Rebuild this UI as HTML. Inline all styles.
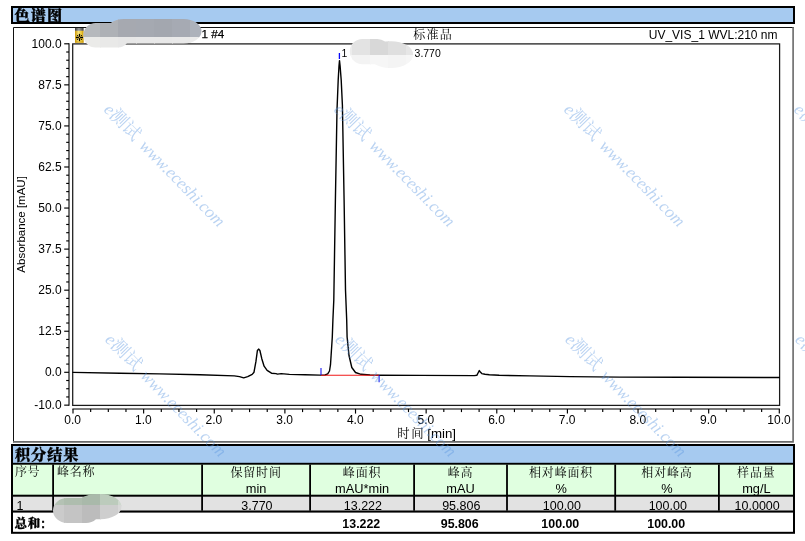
<!DOCTYPE html>
<html lang="zh"><head><meta charset="utf-8"><title>色谱图</title>
<style>html,body{margin:0;padding:0;background:#fff}svg{display:block}</style></head>
<body>
<svg width="805" height="541" viewBox="0 0 805 541">
<defs><filter id="bl" x="-20%" y="-40%" width="140%" height="180%"><feGaussianBlur stdDeviation="0.5"/></filter><filter id="bl2" x="-20%" y="-40%" width="140%" height="180%"><feGaussianBlur stdDeviation="2.2"/></filter></defs>
<rect width="805" height="541" fill="#fff"/>
<rect x="11" y="6" width="784" height="18" fill="#000"/>
<rect x="13" y="8" width="780" height="14" fill="#a6caf0"/>
<text x="14.5" y="20.6" font-family='"Liberation Sans", "Noto Serif CJK SC", serif' font-weight="900" font-size="15.2" letter-spacing="1.1" stroke="#000" stroke-width="0.35" fill="#000">色谱图</text>
<rect x="13.5" y="27.5" width="779.6" height="414.1" fill="#fff"/>
<path d="M13.5,442.3 V27.5 H793.8" fill="none" stroke="#111" stroke-width="1"/>
<path d="M793.1,27 V441.9 H13" fill="none" stroke="#6a6a6a" stroke-width="1.6"/>
<rect x="72.7" y="43.9" width="706.9" height="361.5" fill="none" stroke="#1a1a1a" stroke-width="1.25"/>
<line x1="69.0" y1="43.30000000000001" x2="69.0" y2="405.65000000000003" stroke="#444" stroke-width="1.5"/>
<line x1="64.2" y1="405.15" x2="69.0" y2="405.15" stroke="#000" stroke-width="1.15"/>
<line x1="66.2" y1="396.94" x2="69.0" y2="396.94" stroke="#000" stroke-width="1.15"/>
<line x1="66.2" y1="388.73" x2="69.0" y2="388.73" stroke="#000" stroke-width="1.15"/>
<line x1="66.2" y1="380.51" x2="69.0" y2="380.51" stroke="#000" stroke-width="1.15"/>
<line x1="64.2" y1="372.30" x2="69.0" y2="372.30" stroke="#000" stroke-width="1.15"/>
<line x1="66.2" y1="364.09" x2="69.0" y2="364.09" stroke="#000" stroke-width="1.15"/>
<line x1="66.2" y1="355.88" x2="69.0" y2="355.88" stroke="#000" stroke-width="1.15"/>
<line x1="66.2" y1="347.66" x2="69.0" y2="347.66" stroke="#000" stroke-width="1.15"/>
<line x1="66.2" y1="339.45" x2="69.0" y2="339.45" stroke="#000" stroke-width="1.15"/>
<line x1="64.2" y1="331.24" x2="69.0" y2="331.24" stroke="#000" stroke-width="1.15"/>
<line x1="66.2" y1="323.02" x2="69.0" y2="323.02" stroke="#000" stroke-width="1.15"/>
<line x1="66.2" y1="314.81" x2="69.0" y2="314.81" stroke="#000" stroke-width="1.15"/>
<line x1="66.2" y1="306.60" x2="69.0" y2="306.60" stroke="#000" stroke-width="1.15"/>
<line x1="66.2" y1="298.39" x2="69.0" y2="298.39" stroke="#000" stroke-width="1.15"/>
<line x1="64.2" y1="290.18" x2="69.0" y2="290.18" stroke="#000" stroke-width="1.15"/>
<line x1="66.2" y1="281.96" x2="69.0" y2="281.96" stroke="#000" stroke-width="1.15"/>
<line x1="66.2" y1="273.75" x2="69.0" y2="273.75" stroke="#000" stroke-width="1.15"/>
<line x1="66.2" y1="265.54" x2="69.0" y2="265.54" stroke="#000" stroke-width="1.15"/>
<line x1="66.2" y1="257.32" x2="69.0" y2="257.32" stroke="#000" stroke-width="1.15"/>
<line x1="64.2" y1="249.11" x2="69.0" y2="249.11" stroke="#000" stroke-width="1.15"/>
<line x1="66.2" y1="240.90" x2="69.0" y2="240.90" stroke="#000" stroke-width="1.15"/>
<line x1="66.2" y1="232.69" x2="69.0" y2="232.69" stroke="#000" stroke-width="1.15"/>
<line x1="66.2" y1="224.47" x2="69.0" y2="224.47" stroke="#000" stroke-width="1.15"/>
<line x1="66.2" y1="216.26" x2="69.0" y2="216.26" stroke="#000" stroke-width="1.15"/>
<line x1="64.2" y1="208.05" x2="69.0" y2="208.05" stroke="#000" stroke-width="1.15"/>
<line x1="66.2" y1="199.84" x2="69.0" y2="199.84" stroke="#000" stroke-width="1.15"/>
<line x1="66.2" y1="191.62" x2="69.0" y2="191.62" stroke="#000" stroke-width="1.15"/>
<line x1="66.2" y1="183.41" x2="69.0" y2="183.41" stroke="#000" stroke-width="1.15"/>
<line x1="66.2" y1="175.20" x2="69.0" y2="175.20" stroke="#000" stroke-width="1.15"/>
<line x1="64.2" y1="166.99" x2="69.0" y2="166.99" stroke="#000" stroke-width="1.15"/>
<line x1="66.2" y1="158.78" x2="69.0" y2="158.78" stroke="#000" stroke-width="1.15"/>
<line x1="66.2" y1="150.56" x2="69.0" y2="150.56" stroke="#000" stroke-width="1.15"/>
<line x1="66.2" y1="142.35" x2="69.0" y2="142.35" stroke="#000" stroke-width="1.15"/>
<line x1="66.2" y1="134.14" x2="69.0" y2="134.14" stroke="#000" stroke-width="1.15"/>
<line x1="64.2" y1="125.93" x2="69.0" y2="125.93" stroke="#000" stroke-width="1.15"/>
<line x1="66.2" y1="117.71" x2="69.0" y2="117.71" stroke="#000" stroke-width="1.15"/>
<line x1="66.2" y1="109.50" x2="69.0" y2="109.50" stroke="#000" stroke-width="1.15"/>
<line x1="66.2" y1="101.29" x2="69.0" y2="101.29" stroke="#000" stroke-width="1.15"/>
<line x1="66.2" y1="93.07" x2="69.0" y2="93.07" stroke="#000" stroke-width="1.15"/>
<line x1="64.2" y1="84.86" x2="69.0" y2="84.86" stroke="#000" stroke-width="1.15"/>
<line x1="66.2" y1="76.65" x2="69.0" y2="76.65" stroke="#000" stroke-width="1.15"/>
<line x1="66.2" y1="68.44" x2="69.0" y2="68.44" stroke="#000" stroke-width="1.15"/>
<line x1="66.2" y1="60.23" x2="69.0" y2="60.23" stroke="#000" stroke-width="1.15"/>
<line x1="66.2" y1="52.01" x2="69.0" y2="52.01" stroke="#000" stroke-width="1.15"/>
<line x1="64.2" y1="43.80" x2="69.0" y2="43.80" stroke="#000" stroke-width="1.15"/>
<text x="61.6" y="47.70" text-anchor="end" font-family='"Liberation Sans", "Noto Sans CJK SC", sans-serif' font-size="12" fill="#000">100.0</text>
<text x="61.6" y="88.76" text-anchor="end" font-family='"Liberation Sans", "Noto Sans CJK SC", sans-serif' font-size="12" fill="#000">87.5</text>
<text x="61.6" y="129.83" text-anchor="end" font-family='"Liberation Sans", "Noto Sans CJK SC", sans-serif' font-size="12" fill="#000">75.0</text>
<text x="61.6" y="170.89" text-anchor="end" font-family='"Liberation Sans", "Noto Sans CJK SC", sans-serif' font-size="12" fill="#000">62.5</text>
<text x="61.6" y="211.95" text-anchor="end" font-family='"Liberation Sans", "Noto Sans CJK SC", sans-serif' font-size="12" fill="#000">50.0</text>
<text x="61.6" y="253.01" text-anchor="end" font-family='"Liberation Sans", "Noto Sans CJK SC", sans-serif' font-size="12" fill="#000">37.5</text>
<text x="61.6" y="294.07" text-anchor="end" font-family='"Liberation Sans", "Noto Sans CJK SC", sans-serif' font-size="12" fill="#000">25.0</text>
<text x="61.6" y="335.14" text-anchor="end" font-family='"Liberation Sans", "Noto Sans CJK SC", sans-serif' font-size="12" fill="#000">12.5</text>
<text x="61.6" y="376.20" text-anchor="end" font-family='"Liberation Sans", "Noto Sans CJK SC", sans-serif' font-size="12" fill="#000">0.0</text>
<text x="61.6" y="409.05" text-anchor="end" font-family='"Liberation Sans", "Noto Sans CJK SC", sans-serif' font-size="12" fill="#000">-10.0</text>
<text transform="translate(24.8,224.4) rotate(-90)" text-anchor="middle" font-family='"Liberation Sans", "Noto Sans CJK SC", sans-serif' font-size="11.5" fill="#000">Absorbance [mAU]</text>
<line x1="72.4" y1="408.9" x2="779.9" y2="408.9" stroke="#505050" stroke-width="1.5"/>
<line x1="73.00" y1="408.9" x2="73.00" y2="413.6" stroke="#000" stroke-width="1.15"/>
<line x1="90.66" y1="408.9" x2="90.66" y2="412.1" stroke="#000" stroke-width="1.15"/>
<line x1="108.31" y1="408.9" x2="108.31" y2="412.1" stroke="#000" stroke-width="1.15"/>
<line x1="125.97" y1="408.9" x2="125.97" y2="412.1" stroke="#000" stroke-width="1.15"/>
<line x1="143.63" y1="408.9" x2="143.63" y2="413.6" stroke="#000" stroke-width="1.15"/>
<line x1="161.29" y1="408.9" x2="161.29" y2="412.1" stroke="#000" stroke-width="1.15"/>
<line x1="178.94" y1="408.9" x2="178.94" y2="412.1" stroke="#000" stroke-width="1.15"/>
<line x1="196.60" y1="408.9" x2="196.60" y2="412.1" stroke="#000" stroke-width="1.15"/>
<line x1="214.26" y1="408.9" x2="214.26" y2="413.6" stroke="#000" stroke-width="1.15"/>
<line x1="231.92" y1="408.9" x2="231.92" y2="412.1" stroke="#000" stroke-width="1.15"/>
<line x1="249.57" y1="408.9" x2="249.57" y2="412.1" stroke="#000" stroke-width="1.15"/>
<line x1="267.23" y1="408.9" x2="267.23" y2="412.1" stroke="#000" stroke-width="1.15"/>
<line x1="284.89" y1="408.9" x2="284.89" y2="413.6" stroke="#000" stroke-width="1.15"/>
<line x1="302.55" y1="408.9" x2="302.55" y2="412.1" stroke="#000" stroke-width="1.15"/>
<line x1="320.20" y1="408.9" x2="320.20" y2="412.1" stroke="#000" stroke-width="1.15"/>
<line x1="337.86" y1="408.9" x2="337.86" y2="412.1" stroke="#000" stroke-width="1.15"/>
<line x1="355.52" y1="408.9" x2="355.52" y2="413.6" stroke="#000" stroke-width="1.15"/>
<line x1="373.18" y1="408.9" x2="373.18" y2="412.1" stroke="#000" stroke-width="1.15"/>
<line x1="390.83" y1="408.9" x2="390.83" y2="412.1" stroke="#000" stroke-width="1.15"/>
<line x1="408.49" y1="408.9" x2="408.49" y2="412.1" stroke="#000" stroke-width="1.15"/>
<line x1="426.15" y1="408.9" x2="426.15" y2="413.6" stroke="#000" stroke-width="1.15"/>
<line x1="443.81" y1="408.9" x2="443.81" y2="412.1" stroke="#000" stroke-width="1.15"/>
<line x1="461.46" y1="408.9" x2="461.46" y2="412.1" stroke="#000" stroke-width="1.15"/>
<line x1="479.12" y1="408.9" x2="479.12" y2="412.1" stroke="#000" stroke-width="1.15"/>
<line x1="496.78" y1="408.9" x2="496.78" y2="413.6" stroke="#000" stroke-width="1.15"/>
<line x1="514.44" y1="408.9" x2="514.44" y2="412.1" stroke="#000" stroke-width="1.15"/>
<line x1="532.10" y1="408.9" x2="532.10" y2="412.1" stroke="#000" stroke-width="1.15"/>
<line x1="549.75" y1="408.9" x2="549.75" y2="412.1" stroke="#000" stroke-width="1.15"/>
<line x1="567.41" y1="408.9" x2="567.41" y2="413.6" stroke="#000" stroke-width="1.15"/>
<line x1="585.07" y1="408.9" x2="585.07" y2="412.1" stroke="#000" stroke-width="1.15"/>
<line x1="602.73" y1="408.9" x2="602.73" y2="412.1" stroke="#000" stroke-width="1.15"/>
<line x1="620.38" y1="408.9" x2="620.38" y2="412.1" stroke="#000" stroke-width="1.15"/>
<line x1="638.04" y1="408.9" x2="638.04" y2="413.6" stroke="#000" stroke-width="1.15"/>
<line x1="655.70" y1="408.9" x2="655.70" y2="412.1" stroke="#000" stroke-width="1.15"/>
<line x1="673.35" y1="408.9" x2="673.35" y2="412.1" stroke="#000" stroke-width="1.15"/>
<line x1="691.01" y1="408.9" x2="691.01" y2="412.1" stroke="#000" stroke-width="1.15"/>
<line x1="708.67" y1="408.9" x2="708.67" y2="413.6" stroke="#000" stroke-width="1.15"/>
<line x1="726.33" y1="408.9" x2="726.33" y2="412.1" stroke="#000" stroke-width="1.15"/>
<line x1="743.98" y1="408.9" x2="743.98" y2="412.1" stroke="#000" stroke-width="1.15"/>
<line x1="761.64" y1="408.9" x2="761.64" y2="412.1" stroke="#000" stroke-width="1.15"/>
<line x1="779.30" y1="408.9" x2="779.30" y2="413.6" stroke="#000" stroke-width="1.15"/>
<text x="72.70" y="423.8" text-anchor="middle" font-family='"Liberation Sans", "Noto Sans CJK SC", sans-serif' font-size="12" fill="#000">0.0</text>
<text x="143.33" y="423.8" text-anchor="middle" font-family='"Liberation Sans", "Noto Sans CJK SC", sans-serif' font-size="12" fill="#000">1.0</text>
<text x="213.96" y="423.8" text-anchor="middle" font-family='"Liberation Sans", "Noto Sans CJK SC", sans-serif' font-size="12" fill="#000">2.0</text>
<text x="284.59" y="423.8" text-anchor="middle" font-family='"Liberation Sans", "Noto Sans CJK SC", sans-serif' font-size="12" fill="#000">3.0</text>
<text x="355.22" y="423.8" text-anchor="middle" font-family='"Liberation Sans", "Noto Sans CJK SC", sans-serif' font-size="12" fill="#000">4.0</text>
<text x="425.85" y="423.8" text-anchor="middle" font-family='"Liberation Sans", "Noto Sans CJK SC", sans-serif' font-size="12" fill="#000">5.0</text>
<text x="496.48" y="423.8" text-anchor="middle" font-family='"Liberation Sans", "Noto Sans CJK SC", sans-serif' font-size="12" fill="#000">6.0</text>
<text x="567.11" y="423.8" text-anchor="middle" font-family='"Liberation Sans", "Noto Sans CJK SC", sans-serif' font-size="12" fill="#000">7.0</text>
<text x="637.74" y="423.8" text-anchor="middle" font-family='"Liberation Sans", "Noto Sans CJK SC", sans-serif' font-size="12" fill="#000">8.0</text>
<text x="708.37" y="423.8" text-anchor="middle" font-family='"Liberation Sans", "Noto Sans CJK SC", sans-serif' font-size="12" fill="#000">9.0</text>
<text x="779.00" y="423.8" text-anchor="middle" font-family='"Liberation Sans", "Noto Sans CJK SC", sans-serif' font-size="12" fill="#000">10.0</text>
<text x="397.2" y="438.4" font-family='"Liberation Sans", "Noto Serif CJK SC", serif' font-size="12.4" fill="#000" letter-spacing="1.6">时间<tspan x="427.2" letter-spacing="0" font-size="13.3">[min]</tspan></text>
<text x="201.6" y="38.1" font-family='"Liberation Sans", "Noto Sans CJK SC", sans-serif' font-size="11.7" stroke="#000" stroke-width="0.25" fill="#000">1 #4</text>
<text x="413.3" y="38.6" font-family='"Liberation Sans", "Noto Serif CJK SC", serif' font-size="12" letter-spacing="1.2" fill="#000">标准品</text>
<text x="777.5" y="39.1" text-anchor="end" font-family='"Liberation Sans", "Noto Sans CJK SC", sans-serif' font-size="12" fill="#000">UV_VIS_1 WVL:210 nm</text>
<defs><linearGradient id="cap" x1="0" x2="1" y1="0" y2="0"><stop offset="0" stop-color="#3a3a3a"/><stop offset="0.45" stop-color="#a0a0a0"/><stop offset="1" stop-color="#3a3a3a"/></linearGradient><linearGradient id="bod" x1="0" x2="1" y1="0" y2="0"><stop offset="0" stop-color="#c89400"/><stop offset="0.4" stop-color="#f7e27a"/><stop offset="0.75" stop-color="#ecc83a"/><stop offset="1" stop-color="#c89400"/></linearGradient></defs>
<g><rect x="75" y="28" width="8.6" height="2.9" fill="url(#cap)"/><rect x="75" y="30.8" width="8.6" height="11.9" fill="url(#bod)"/><rect x="75" y="41.5" width="8.6" height="1.2" fill="#c49200" fill-opacity="0.7"/><g stroke="#000" stroke-width="1.3" stroke-linecap="round"><line x1="79.5" y1="34.5" x2="79.5" y2="40.5"/><line x1="76.5" y1="37.5" x2="82.5" y2="37.5"/></g><g fill="#000"><circle cx="77.5" cy="35.5" r="0.6"/><circle cx="81.5" cy="35.5" r="0.6"/><circle cx="77.5" cy="39.5" r="0.6"/><circle cx="81.5" cy="39.5" r="0.6"/></g><circle cx="79.5" cy="37.5" r="0.7" fill="#e0b020"/></g>
<path d="M73.0,372.4 L120.0,373.2 L159.4,373.9 L200.0,374.8 L234.3,375.9 L239.5,376.6 L243.7,377.8 L247.7,376.6 L252.2,374.4 L254.0,372.2 L255.9,361.7 L257.4,350.5 L258.6,349.1 L259.9,350.5 L261.8,358.7 L264.1,366.2 L267.1,370.4 L271.5,373.2 L276.0,373.6 L277.5,374.1 L281.2,373.6 L289.4,374.4 L305.0,374.8 L320.0,375.1 L325.0,375.0 L327.7,373.9 L329.5,371.0 L330.5,364.7 L332.3,337.0 L332.9,320.0 L333.8,300.0 L335.4,200.0 L337.0,110.0 L338.2,80.0 L339.0,66.0 L339.5,60.6 L340.1,66.0 L341.2,80.0 L342.4,105.0 L344.1,200.0 L345.5,290.0 L346.7,320.0 L347.1,337.0 L349.0,355.5 L351.8,367.5 L355.5,372.5 L361.0,374.3 L370.0,375.0 L379.0,375.2 L420.0,375.4 L474.3,375.6 L476.8,375.3 L478.3,372.5 L479.3,370.6 L480.3,372.0 L481.8,373.6 L485.0,374.3 L489.3,374.8 L499.2,375.3 L530.0,375.9 L570.0,376.6 L620.0,377.1 L680.0,377.3 L779.3,377.5" fill="none" stroke="#000" stroke-width="1.4" stroke-linejoin="round" stroke-linecap="round"/>
<line x1="321" y1="375.2" x2="379" y2="375.2" stroke="#f01818" stroke-width="1.1"/>
<line x1="321" y1="368" x2="321" y2="375" stroke="#1010f4" stroke-width="1.05"/>
<line x1="379.1" y1="375.2" x2="379.1" y2="382.3" stroke="#1010f4" stroke-width="1.05"/>
<line x1="339.4" y1="53" x2="339.4" y2="59" stroke="#0808f8" stroke-width="1.3"/>
<text x="341.6" y="56.6" font-family='"Liberation Sans", "Noto Sans CJK SC", sans-serif' font-size="10.4" fill="#000">1</text>
<text x="414.6" y="56.9" font-family='"Liberation Sans", "Noto Sans CJK SC", sans-serif' font-size="10.45" fill="#000">3.770</text>
<rect x="11" y="444" width="784" height="89.8" fill="#000"/>
<rect x="13" y="446" width="780" height="16.8" fill="#a6caf0"/>
<rect x="13" y="464.7" width="780" height="30" fill="#e0ffe0"/>
<rect x="13" y="496.7" width="780" height="13.8" fill="#e2e2e2"/>
<rect x="13" y="512.6" width="780" height="19.2" fill="#fff"/>
<rect x="52.2" y="464.5" width="1.8" height="46.2" fill="#000"/>
<rect x="201.2" y="464.5" width="1.8" height="46.2" fill="#000"/>
<rect x="309.2" y="464.5" width="1.8" height="46.2" fill="#000"/>
<rect x="413.2" y="464.5" width="1.8" height="46.2" fill="#000"/>
<rect x="506.1" y="464.5" width="1.8" height="46.2" fill="#000"/>
<rect x="614.3" y="464.5" width="1.8" height="46.2" fill="#000"/>
<rect x="718.0" y="464.5" width="1.8" height="46.2" fill="#000"/>
<text x="15" y="459.8" font-family='"Liberation Sans", "Noto Serif CJK SC", serif' font-weight="900" font-size="15.2" letter-spacing="0.9" stroke="#000" stroke-width="0.3" fill="#000">积分结果</text>
<text x="15" y="476.2" font-family='"Liberation Sans", "Noto Serif CJK SC", serif' font-size="12" letter-spacing="0.6" fill="#000">序号</text>
<text x="57" y="476.2" font-family='"Liberation Sans", "Noto Serif CJK SC", serif' font-size="12" letter-spacing="0.8" fill="#000">峰名称</text>
<text x="256.1" y="476.5" text-anchor="middle" font-family='"Liberation Sans", "Noto Serif CJK SC", serif' font-size="12" letter-spacing="0.85" fill="#000">保留时间</text>
<text x="256.1" y="492.6" text-anchor="middle" font-family='"Liberation Sans", "Noto Sans CJK SC", sans-serif' font-size="12.8" fill="#000">min</text>
<text x="256.9" y="510.1" text-anchor="middle" font-family='"Liberation Sans", "Noto Sans CJK SC", sans-serif' font-size="12.5" fill="#000">3.770</text>
<text x="362.1" y="476.5" text-anchor="middle" font-family='"Liberation Sans", "Noto Serif CJK SC", serif' font-size="12" letter-spacing="0.85" fill="#000">峰面积</text>
<text x="362.1" y="492.6" text-anchor="middle" font-family='"Liberation Sans", "Noto Sans CJK SC", sans-serif' font-size="12.8" fill="#000">mAU*min</text>
<text x="362.9" y="510.1" text-anchor="middle" font-family='"Liberation Sans", "Noto Sans CJK SC", sans-serif' font-size="12.5" fill="#000">13.222</text>
<text x="361.3" y="527.7" text-anchor="middle" font-family='"Liberation Sans", "Noto Sans CJK SC", sans-serif' font-weight="bold" font-size="12.4" fill="#000">13.222</text>
<text x="460.5" y="476.5" text-anchor="middle" font-family='"Liberation Sans", "Noto Serif CJK SC", serif' font-size="12" letter-spacing="0.85" fill="#000">峰高</text>
<text x="460.5" y="492.6" text-anchor="middle" font-family='"Liberation Sans", "Noto Sans CJK SC", sans-serif' font-size="12.8" fill="#000">mAU</text>
<text x="461.3" y="510.1" text-anchor="middle" font-family='"Liberation Sans", "Noto Sans CJK SC", sans-serif' font-size="12.5" fill="#000">95.806</text>
<text x="459.7" y="527.7" text-anchor="middle" font-family='"Liberation Sans", "Noto Sans CJK SC", sans-serif' font-weight="bold" font-size="12.4" fill="#000">95.806</text>
<text x="561.1" y="476.5" text-anchor="middle" font-family='"Liberation Sans", "Noto Serif CJK SC", serif' font-size="12" letter-spacing="0.85" fill="#000">相对峰面积</text>
<text x="561.1" y="492.6" text-anchor="middle" font-family='"Liberation Sans", "Noto Sans CJK SC", sans-serif' font-size="12.8" fill="#000">%</text>
<text x="561.9" y="510.1" text-anchor="middle" font-family='"Liberation Sans", "Noto Sans CJK SC", sans-serif' font-size="12.5" fill="#000">100.00</text>
<text x="560.3" y="527.7" text-anchor="middle" font-family='"Liberation Sans", "Noto Sans CJK SC", sans-serif' font-weight="bold" font-size="12.4" fill="#000">100.00</text>
<text x="667.0" y="476.5" text-anchor="middle" font-family='"Liberation Sans", "Noto Serif CJK SC", serif' font-size="12" letter-spacing="0.85" fill="#000">相对峰高</text>
<text x="667.0" y="492.6" text-anchor="middle" font-family='"Liberation Sans", "Noto Sans CJK SC", sans-serif' font-size="12.8" fill="#000">%</text>
<text x="667.8" y="510.1" text-anchor="middle" font-family='"Liberation Sans", "Noto Sans CJK SC", sans-serif' font-size="12.5" fill="#000">100.00</text>
<text x="666.2" y="527.7" text-anchor="middle" font-family='"Liberation Sans", "Noto Sans CJK SC", sans-serif' font-weight="bold" font-size="12.4" fill="#000">100.00</text>
<text x="756.4" y="476.5" text-anchor="middle" font-family='"Liberation Sans", "Noto Serif CJK SC", serif' font-size="12" letter-spacing="0.85" fill="#000">样品量</text>
<text x="756.4" y="492.6" text-anchor="middle" font-family='"Liberation Sans", "Noto Sans CJK SC", sans-serif' font-size="12.8" fill="#000">mg/L</text>
<text x="757.2" y="510.1" text-anchor="middle" font-family='"Liberation Sans", "Noto Sans CJK SC", sans-serif' font-size="12.5" fill="#000">10.0000</text>
<text x="16.5" y="510.1" font-family='"Liberation Sans", "Noto Sans CJK SC", sans-serif' font-size="12.5" fill="#000">1</text>
<text x="14.5" y="527.9" font-family='"Liberation Sans", "Noto Serif CJK SC", serif' font-weight="900" font-size="12.5" letter-spacing="0.7" stroke="#000" stroke-width="0.3" fill="#000">总和:</text>
<text transform="translate(103.1,110.5) rotate(45.6)" x="0" y="0" font-family='"Liberation Serif", "Noto Serif CJK SC", serif' font-style="italic" font-size="17.3" fill="#5b96e0" fill-opacity="0.42">e<tspan font-style="normal" font-size="18">测试</tspan><tspan dx="2.6"> www.eceshi.com</tspan></text>
<text transform="translate(333.1,110.5) rotate(45.6)" x="0" y="0" font-family='"Liberation Serif", "Noto Serif CJK SC", serif' font-style="italic" font-size="17.3" fill="#5b96e0" fill-opacity="0.42">e<tspan font-style="normal" font-size="18">测试</tspan><tspan dx="2.6"> www.eceshi.com</tspan></text>
<text transform="translate(563.1,110.5) rotate(45.6)" x="0" y="0" font-family='"Liberation Serif", "Noto Serif CJK SC", serif' font-style="italic" font-size="17.3" fill="#5b96e0" fill-opacity="0.42">e<tspan font-style="normal" font-size="18">测试</tspan><tspan dx="2.6"> www.eceshi.com</tspan></text>
<text transform="translate(793.1,110.5) rotate(45.6)" x="0" y="0" font-family='"Liberation Serif", "Noto Serif CJK SC", serif' font-style="italic" font-size="17.3" fill="#5b96e0" fill-opacity="0.42">e<tspan font-style="normal" font-size="18">测试</tspan><tspan dx="2.6"> www.eceshi.com</tspan></text>
<text transform="translate(104.3,340.5) rotate(45.6)" x="0" y="0" font-family='"Liberation Serif", "Noto Serif CJK SC", serif' font-style="italic" font-size="17.3" fill="#5b96e0" fill-opacity="0.42">e<tspan font-style="normal" font-size="18">测试</tspan><tspan dx="2.6"> www.eceshi.com</tspan></text>
<text transform="translate(334.3,340.5) rotate(45.6)" x="0" y="0" font-family='"Liberation Serif", "Noto Serif CJK SC", serif' font-style="italic" font-size="17.3" fill="#5b96e0" fill-opacity="0.42">e<tspan font-style="normal" font-size="18">测试</tspan><tspan dx="2.6"> www.eceshi.com</tspan></text>
<text transform="translate(564.3000000000001,340.5) rotate(45.6)" x="0" y="0" font-family='"Liberation Serif", "Noto Serif CJK SC", serif' font-style="italic" font-size="17.3" fill="#5b96e0" fill-opacity="0.42">e<tspan font-style="normal" font-size="18">测试</tspan><tspan dx="2.6"> www.eceshi.com</tspan></text>
<text transform="translate(794.3000000000001,340.5) rotate(45.6)" x="0" y="0" font-family='"Liberation Serif", "Noto Serif CJK SC", serif' font-style="italic" font-size="17.3" fill="#5b96e0" fill-opacity="0.42">e<tspan font-style="normal" font-size="18">测试</tspan><tspan dx="2.6"> www.eceshi.com</tspan></text>
<clipPath id="cb1"><rect x="83.4" y="23" width="46.599999999999994" height="24.5" rx="12.2" ry="12.2"/><rect x="106" y="19" width="95.5" height="24.5" rx="18" ry="12.2"/></clipPath>
<g filter="url(#bl)"><g clip-path="url(#cb1)"><rect x="82" y="19" width="19" height="19" fill="#b6b9bd"/><rect x="100" y="19" width="19" height="19" fill="#aeb1b6"/><rect x="118" y="19" width="19" height="19" fill="#a6a9b0"/><rect x="136" y="19" width="19" height="19" fill="#a5a9b1"/><rect x="154" y="19" width="19" height="19" fill="#a3a7af"/><rect x="172" y="19" width="19" height="19" fill="#a6aab3"/><rect x="190" y="19" width="19" height="19" fill="#adb2bb"/><rect x="82" y="37" width="19" height="19" fill="#ebebe9"/><rect x="100" y="37" width="19" height="19" fill="#e9e9e8"/><rect x="118" y="37" width="19" height="19" fill="#e7e7e7"/><rect x="136" y="37" width="19" height="19" fill="#e8e8e8"/><rect x="154" y="37" width="19" height="19" fill="#e8e8e8"/><rect x="172" y="37" width="19" height="19" fill="#e9e9e9"/><rect x="190" y="37" width="19" height="19" fill="#ebebeb"/></g></g>
<clipPath id="cb2"><rect x="349.8" y="38.9" width="40.19999999999999" height="25.4" rx="12.7" ry="12.7"/><rect x="368" y="41.2" width="45.19999999999999" height="26.799999999999997" rx="22" ry="13.4"/></clipPath>
<g filter="url(#bl)"><g clip-path="url(#cb2)"><rect x="334" y="37" width="19" height="19" fill="#ececec"/><rect x="352" y="37" width="19" height="19" fill="#e3e3e3"/><rect x="370" y="37" width="19" height="19" fill="#d8d8d8"/><rect x="388" y="37" width="19" height="19" fill="#dfdfdf"/><rect x="406" y="37" width="19" height="19" fill="#e6e6e6"/><rect x="334" y="55" width="19" height="19" fill="#f5f5f5"/><rect x="352" y="55" width="19" height="19" fill="#f3f3f3"/><rect x="370" y="55" width="19" height="19" fill="#f6f6f6"/><rect x="388" y="55" width="19" height="19" fill="#f4f4f4"/><rect x="406" y="55" width="19" height="19" fill="#f6f6f6"/></g></g>
<clipPath id="cb3"><rect x="53" y="498" width="47" height="25" rx="14" ry="12.5"/><rect x="76" y="494" width="45.5" height="25.299999999999955" rx="21" ry="12.6"/></clipPath>
<g filter="url(#bl)"><g clip-path="url(#cb3)"><rect x="46" y="487" width="19" height="19" fill="#b4c2b4"/><rect x="64" y="487" width="19" height="19" fill="#aebdae"/><rect x="82" y="487" width="19" height="19" fill="#a9b9aa"/><rect x="100" y="487" width="19" height="19" fill="#bccbbc"/><rect x="118" y="487" width="19" height="19" fill="#cfd9cf"/><rect x="46" y="505" width="19" height="19.5" fill="#cbcbcb"/><rect x="64" y="505" width="19" height="19.5" fill="#c4c4c4"/><rect x="82" y="505" width="19" height="19.5" fill="#bcbcbc"/><rect x="100" y="505" width="19" height="19.5" fill="#cecece"/><rect x="118" y="505" width="19" height="19.5" fill="#d8d8d8"/></g></g>
</svg>
</body></html>
